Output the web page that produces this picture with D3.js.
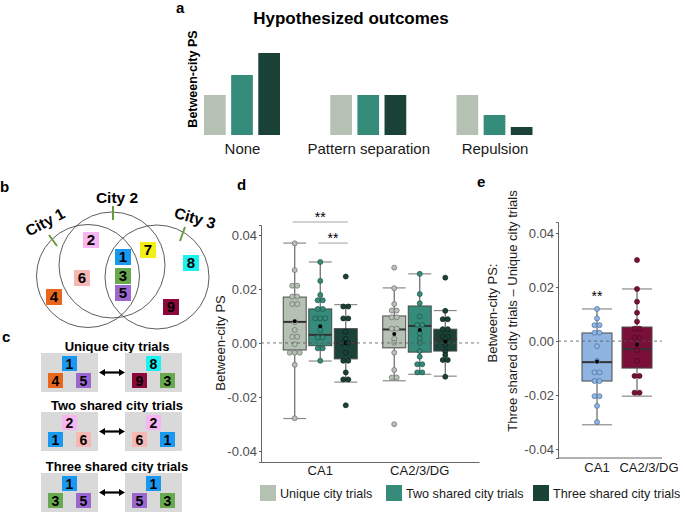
<!DOCTYPE html>
<html>
<head>
<meta charset="utf-8">
<script src="https://cdn.jsdelivr.net/npm/d3@7"></script>
<style>
  body { margin: 0; background: #fff; }
  svg { display: block; font-family: "Liberation Sans", Arial, sans-serif; }
</style>
</head>
<body>
<div id="chart"></div>
<script>
// ---------- data ----------
const trialTypes = ["Unique city trials", "Two shared city trials", "Three shared city trials"];
const trialColors = ["#b4c1b3", "#368c7b", "#1b4237"];

// a: hypothesized outcomes (arbitrary units)
const outcomes = ["None", "Pattern separation", "Repulsion"];
const hypoUnique = [1, 1, 1];
const hypoTwo = [1.5, 1, 0.5];
const hypoThree = [2.05, 1, 0.2];

// b/c: cities and landmarks
const cityNames = ["City 1", "City 2", "City 3"];
const landmarkIds = [1, 2, 3, 4, 5, 6, 7, 8, 9];
const landmarkColors = ["#1a98f0", "#f7b6f2", "#6aa84f", "#e8671c", "#9b68cf",
                        "#f6b7b5", "#f3ee17", "#1cf2ef", "#8c0a3b"];
const uniqueLeft = [1, 4, 5],  uniqueRight = [8, 9, 3];
const twoLeft = [2, 1, 6],     twoRight = [2, 6, 1];
const threeLeft = [1, 3, 5],   threeRight = [1, 5, 3];

// d: between-city PS, stats = [lower whisker, q1, median, q3, upper whisker, mean]
const regions = ["CA1", "CA2/3/DG"];
const ca1Unique = [0.0369, 0.027, 0.0212, 0.0212, 0.0172, 0.0172, 0.0144, 0.0144, 0.0077, 0.0048,
                   0.0023, 0.0023, -0.0005, -0.0036, -0.0036, -0.0036, -0.0081, -0.0279];
const ca1Two = [0.030, 0.023, 0.0178, 0.0158, 0.0158, 0.0126, 0.0126, 0.0091, 0.0091, 0.0091,
                0.0048, 0.002, 0.002, -0.002, -0.002, -0.0066];
const ca1Three = [0.0246, 0.0135, 0.0135, 0.0091, 0.0091, 0.0042, 0.0015, 0.0, 0.0, -0.0036,
                  -0.0066, -0.0066, -0.0109, -0.0135, -0.0135, -0.0231];
const ca2Unique = [0.0279, 0.0203, 0.0144, 0.012, 0.012, 0.0095, 0.0095, 0.0053, 0.0053, 0.0015,
                   0.0001, -0.0036, -0.01, -0.0128, -0.0128, -0.0301];
const ca2Two = [0.0256, 0.0181, 0.0147, 0.0098, 0.0067, 0.0067, 0.0036, 0.0017, 0.0, -0.003,
                -0.0051, -0.0079, -0.0079, -0.0109, -0.0109];
const ca2Three = [0.0242, 0.0119, 0.0088, 0.0088, 0.0051, 0.0051, 0.0023, 0.0023, 0.0015, 0.0,
                  -0.0007, -0.0032, -0.0045, -0.0063, -0.0063, -0.0125];
const ca1Stats = [[-0.028, -0.0026, 0.0078, 0.017, 0.037, 0.008],
                  [-0.0067, -0.001, 0.003, 0.0126, 0.030, 0.0062],
                  [-0.0145, -0.0059, 0.0, 0.0053, 0.0142, 0.0]];
const ca2Stats = [[-0.014, -0.0018, 0.005, 0.010, 0.0204, 0.0033],
                  [-0.0116, -0.0034, 0.0063, 0.0137, 0.0256, 0.0048],
                  [-0.0123, -0.003, 0.0015, 0.0051, 0.012, 0.0005]];

// e: three shared - unique
const diffCA1 = [0.0119, 0.0084, 0.0059, 0.0059, 0.0031, 0.0031, -0.0019, -0.0074, -0.0116, -0.0116,
                 -0.0148, -0.0148, -0.0204, -0.0204, -0.024, -0.030];
const diffCA2 = [0.030, 0.0193, 0.0146, 0.0105, 0.0072, 0.0046, 0.0046, 0.0012, 0.0012, -0.0033,
                 -0.0073, -0.0129, -0.0129, -0.0191, -0.0191];
const diffStats = [[-0.031, -0.0148, -0.0078, 0.003, 0.0119, -0.0076],
                   [-0.0204, -0.010, -0.003, 0.0052, 0.0193, -0.0013]];
const diffColors = ["#8fb4e2", "#7a1039"];
const diffStroke = ["#4d6f9c", "#4a0820"];

const yTicks = [-0.04, -0.02, 0, 0.02, 0.04];

// ---------- svg ----------
const svg = d3.select("#chart").append("svg")
    .attr("width", 685)
    .attr("height", 513);

function panelLetter(x, y, t) {
    svg.append("text").attr("x", x).attr("y", y)
        .style("font-size", "15px").style("font-weight", "bold").text(t);
}

// ---------- a ----------
panelLetter(176, 13, "a");
const xA = d3.scalePoint().domain(outcomes).range([242, 494.5]);
const xAInner = d3.scaleBand().domain(trialTypes).range([-38, 38]).paddingInner(0.2);
const yA = d3.scaleLinear().domain([0, 2.05]).range([135, 53]);

const gA = svg.append("g");
[hypoUnique, hypoTwo, hypoThree].forEach((vals, j) => {
    gA.selectAll(null).data(outcomes).join("rect")
        .attr("x", d => xA(d) + xAInner(trialTypes[j]))
        .attr("y", (d, i) => yA(vals[i]))
        .attr("width", xAInner.bandwidth())
        .attr("height", (d, i) => yA(0) - yA(vals[i]))
        .attr("fill", trialColors[j]);
});
const axA = gA.append("g")
    .attr("transform", `translate(0,${yA(0)})`)
    .call(d3.axisBottom(xA).tickSize(0).tickPadding(8));
axA.select(".domain").remove();
axA.selectAll("text").style("font-size", "15px").style("fill", "#1a1a1a")
    .style("font-family", "Liberation Sans, Arial, sans-serif");

gA.append("text")
    .attr("x", 351).attr("y", 24)
    .attr("text-anchor", "middle")
    .style("font-size", "17px").style("font-weight", "bold")
    .text("Hypothesized outcomes");
gA.append("text")
    .attr("transform", "translate(197,79) rotate(-90)")
    .attr("text-anchor", "middle")
    .style("font-size", "12.5px").style("font-weight", "bold")
    .text("Between-city PS");

// ---------- b ----------
panelLetter(0, 192, "b");
// schematic layout for the Venn diagram
const vennCircles = [
    { cx: 88, cy: 276, r: 51.5, tick: [[49, 235], [57, 246]], label: [45, 222], rot: -28 },
    { cx: 112, cy: 265, r: 53, tick: [[113, 206], [113, 220]], label: [117, 198], rot: 0 },
    { cx: 157, cy: 277, r: 52, tick: [[185, 227], [180, 241]], label: [195, 218], rot: 16 }
];
const vennSpots = [[123, 257], [91, 240], [123, 276], [54, 297], [123, 293],
                   [82, 278], [148, 250], [191, 263], [171, 307]];
const gB = svg.append("g");
gB.selectAll("circle").data(vennCircles).join("circle")
    .attr("cx", d => d.cx).attr("cy", d => d.cy).attr("r", d => d.r)
    .attr("fill", "none").attr("stroke", "#333").attr("stroke-width", 0.8);
gB.selectAll("line.tick").data(vennCircles).join("line")
    .attr("class", "tick")
    .attr("x1", d => d.tick[0][0]).attr("y1", d => d.tick[0][1])
    .attr("x2", d => d.tick[1][0]).attr("y2", d => d.tick[1][1])
    .attr("stroke", "#6b9a3c").attr("stroke-width", 2);
gB.selectAll("text.city").data(vennCircles).join("text")
    .attr("class", "city")
    .attr("transform", d => `translate(${d.label[0]},${d.label[1]}) rotate(${d.rot})`)
    .attr("text-anchor", "middle").attr("dy", "0.35em")
    .style("font-size", "15.5px").style("font-weight", "bold")
    .text((d, i) => cityNames[i]);

function landmark(g, id, cx, cy, s, fs) {
    g.append("rect")
        .attr("x", cx - s / 2).attr("y", cy - s / 2)
        .attr("width", s).attr("height", s)
        .attr("fill", landmarkColors[landmarkIds.indexOf(id)]);
    g.append("text")
        .attr("x", cx).attr("y", cy).attr("dy", "0.36em")
        .attr("text-anchor", "middle")
        .style("font-size", fs + "px").style("font-weight", "bold")
        .text(id);
}
landmarkIds.forEach((id, i) => landmark(gB, id, vennSpots[i][0], vennSpots[i][1], 16, 15));

// ---------- c ----------
panelLetter(2, 342, "c");
const gC = svg.append("g");
const rowTops = [353, 412, 473];
const boxLefts = [41, 125];
const boxW = 57, boxH = 39;
const pairs = [[uniqueLeft, uniqueRight], [twoLeft, twoRight], [threeLeft, threeRight]];
const slot = [[0, 10.5], [-14, 27.5], [14, 27.5]];

pairs.forEach((pair, r) => {
    const top = rowTops[r];
    gC.append("text")
        .attr("x", 117).attr("y", top - 2.5)
        .attr("text-anchor", "middle")
        .style("font-size", "13px").style("font-weight", "bold")
        .text(trialTypes[r]);
    pair.forEach((ids, k) => {
        const bx = boxLefts[k];
        gC.append("rect")
            .attr("x", bx).attr("y", top)
            .attr("width", boxW).attr("height", boxH)
            .attr("fill", "#d9d9d9");
        ids.forEach((id, s) => landmark(gC, id, bx + boxW / 2 + slot[s][0], top + slot[s][1], 15, 14));
    });
    // double-headed arrow
    const ay = top + boxH / 2;
    gC.append("line")
        .attr("x1", 104).attr("x2", 120).attr("y1", ay).attr("y2", ay)
        .attr("stroke", "#000").attr("stroke-width", 2.2);
    gC.append("path")
        .attr("d", `M99,${ay} L105,${ay - 3.5} L105,${ay + 3.5} Z M125,${ay} L119,${ay - 3.5} L119,${ay + 3.5} Z`)
        .attr("fill", "#000");
});

// ---------- shared box drawing ----------
function fmt(d) { return d.toFixed(2); }

function drawBox(g, cx, bw, s, pts, fill, ptStroke, y) {
    const [lo, q1, med, q3, hi, mean] = s;
    g.append("line")
        .attr("x1", cx).attr("x2", cx).attr("y1", y(lo)).attr("y2", y(hi))
        .attr("stroke", "#666").attr("stroke-width", 1.2);
    [lo, hi].forEach(v => {
        g.append("line")
            .attr("x1", cx - bw / 2).attr("x2", cx + bw / 2)
            .attr("y1", y(v)).attr("y2", y(v))
            .attr("stroke", "#8a8a8a").attr("stroke-width", 1.2);
    });
    g.append("rect")
        .attr("x", cx - bw / 2).attr("y", y(q3))
        .attr("width", bw).attr("height", y(q1) - y(q3))
        .attr("fill", fill).attr("stroke", "#4a4a4a").attr("stroke-width", 1);
    g.append("line")
        .attr("x1", cx - bw / 2).attr("x2", cx + bw / 2)
        .attr("y1", y(med)).attr("y2", y(med))
        .attr("stroke", "#333").attr("stroke-width", 2);

    // stack equal values side by side, like a dot plot
    const counts = d3.rollup(pts, v => v.length, d => d);
    const seen = new Map();
    const offs = pts.map(d => {
        const n = counts.get(d), k = seen.get(d) || 0;
        seen.set(d, k + 1);
        return (k - (n - 1) / 2) * 5;
    });
    g.selectAll(null).data(pts).join("circle")
        .attr("cx", (d, i) => cx + offs[i])
        .attr("cy", d => y(d))
        .attr("r", 2.5)
        .attr("fill", fill)
        .attr("stroke", ptStroke)
        .attr("stroke-width", 0.7);
    g.append("circle")
        .attr("cx", cx).attr("cy", y(mean)).attr("r", 2)
        .attr("fill", "#000");
}

function styleYAxis(ax) {
    ax.select(".domain").attr("stroke", "#555").attr("stroke-width", 0.9);
    ax.selectAll(".tick line").attr("stroke", "#555");
    ax.selectAll("text").style("font-size", "13px").style("fill", "#4d4d4d")
        .style("font-family", "Liberation Sans, Arial, sans-serif");
}

// ---------- d ----------
panelLetter(237, 190, "d");
const gD = svg.append("g");
const yD = d3.scaleLinear().domain([-0.0441, 0.0437]).range([462, 225]);
const xD = d3.scaleBand().domain(regions).range([261, 479]).paddingInner(0.2).paddingOuter(0.1955);
const xDInner = d3.scaleBand().domain(trialTypes).range([-37, 37]).paddingInner(0.1);
const dPoints = [[ca1Unique, ca1Two, ca1Three], [ca2Unique, ca2Two, ca2Three]];
const dStats = [ca1Stats, ca2Stats];
const ptStrokeD = ["#6e6e6e", "#1f5247", "#0b1f19"];

regions.forEach((reg, r) => {
    trialTypes.forEach((t, j) => {
        const cx = xD(reg) + xD.bandwidth() / 2 + xDInner(t) + xDInner.bandwidth() / 2;
        drawBox(gD, cx, xDInner.bandwidth(), dStats[r][j], dPoints[r][j], trialColors[j], ptStrokeD[j], yD);
    });
});

gD.append("line")
    .attr("x1", 261).attr("x2", 479)
    .attr("y1", yD(0)).attr("y2", yD(0))
    .attr("stroke", "#555").attr("stroke-width", 0.8).attr("stroke-dasharray", "3,3");

const axDy = gD.append("g").attr("transform", "translate(261,0)")
    .call(d3.axisLeft(yD).tickValues(yTicks).tickFormat(fmt).tickSize(2).tickPadding(2));
styleYAxis(axDy);
const axDx = gD.append("g").attr("transform", `translate(0,${yD.range()[0]})`)
    .call(d3.axisBottom(xD).tickSize(0).tickPadding(4));
axDx.select(".domain").attr("stroke", "#555").attr("stroke-width", 0.9);
axDx.selectAll("text").style("font-size", "13px").style("fill", "#1a1a1a")
    .style("font-family", "Liberation Sans, Arial, sans-serif");

gD.append("text")
    .attr("transform", `translate(224.5,${yD(0)}) rotate(-90)`)
    .attr("text-anchor", "middle")
    .style("font-size", "13px").style("fill", "#1a1a1a")
    .text("Between-city PS");

// significance brackets (CA1)
const cxOf = t => xD("CA1") + xD.bandwidth() / 2 + xDInner(t) + xDInner.bandwidth() / 2;
const brackets = [[trialTypes[0], trialTypes[2], 0.0448], [trialTypes[1], trialTypes[2], 0.037]];
brackets.forEach(([a, b, v]) => {
    const x1 = cxOf(a) - 2, x2 = cxOf(b) + 2;
    gD.append("line").attr("x1", x1).attr("x2", x2)
        .attr("y1", yD(v)).attr("y2", yD(v))
        .attr("stroke", "#999").attr("stroke-width", 0.9);
    gD.append("text").attr("x", (x1 + x2) / 2).attr("y", yD(v))
        .attr("text-anchor", "middle")
        .style("font-size", "14px").text("**");
});

// legend
const legX = [260, 386, 533];
trialTypes.forEach((t, j) => {
    gD.append("rect").attr("x", legX[j]).attr("y", 485)
        .attr("width", 16).attr("height", 16).attr("fill", trialColors[j]);
    gD.append("text").attr("x", legX[j] + 20).attr("y", 497.5)
        .style("font-size", "12.6px").style("fill", "#1a1a1a").text(t);
});

// ---------- e ----------
panelLetter(477, 187, "e");
const gE = svg.append("g");
const yE = d3.scaleLinear().domain([-0.0433, 0.0441]).range([458, 222]);
const xE = d3.scaleBand().domain(regions).range([572, 662]).paddingInner(0.25).paddingOuter(0.25);
const ePoints = [diffCA1, diffCA2];

regions.forEach((reg, r) => {
    drawBox(gE, xE(reg) + xE.bandwidth() / 2, xE.bandwidth(), diffStats[r], ePoints[r],
        diffColors[r], diffStroke[r], yE);
});
gE.append("line")
    .attr("x1", 558).attr("x2", 662)
    .attr("y1", yE(0)).attr("y2", yE(0))
    .attr("stroke", "#555").attr("stroke-width", 0.8).attr("stroke-dasharray", "3,3");

const axEy = gE.append("g").attr("transform", "translate(558,0)")
    .call(d3.axisLeft(yE).tickValues(yTicks).tickFormat(fmt).tickSize(2).tickPadding(2));
styleYAxis(axEy);
gE.append("line")
    .attr("x1", 558).attr("x2", 662)
    .attr("y1", yE.range()[0]).attr("y2", yE.range()[0])
    .attr("stroke", "#555").attr("stroke-width", 0.9);
const axEx = gE.append("g").attr("transform", `translate(0,${yE.range()[0]})`)
    .call(d3.axisBottom(xE).tickSize(0).tickPadding(5));
axEx.select(".domain").remove();
axEx.selectAll("text").style("font-size", "13px").style("fill", "#1a1a1a")
    .style("font-family", "Liberation Sans, Arial, sans-serif")
    .attr("dx", (d, i) => i === 1 ? 12 : 0);

gE.append("text")
    .attr("transform", `translate(497,313) rotate(-90)`)
    .attr("text-anchor", "middle")
    .style("font-size", "13px").style("fill", "#1a1a1a")
    .text("Between-city PS:");
gE.append("text")
    .attr("transform", `translate(517,311) rotate(-90)`)
    .attr("text-anchor", "middle")
    .style("font-size", "13px").style("fill", "#1a1a1a")
    .text("Three shared city trials \u2013 Unique city trials");

gE.append("text")
    .attr("x", xE("CA1") + xE.bandwidth() / 2)
    .attr("y", yE(diffStats[0][4]) - 8)
    .attr("text-anchor", "middle")
    .style("font-size", "14px").text("**");
</script>
</body>
</html>
